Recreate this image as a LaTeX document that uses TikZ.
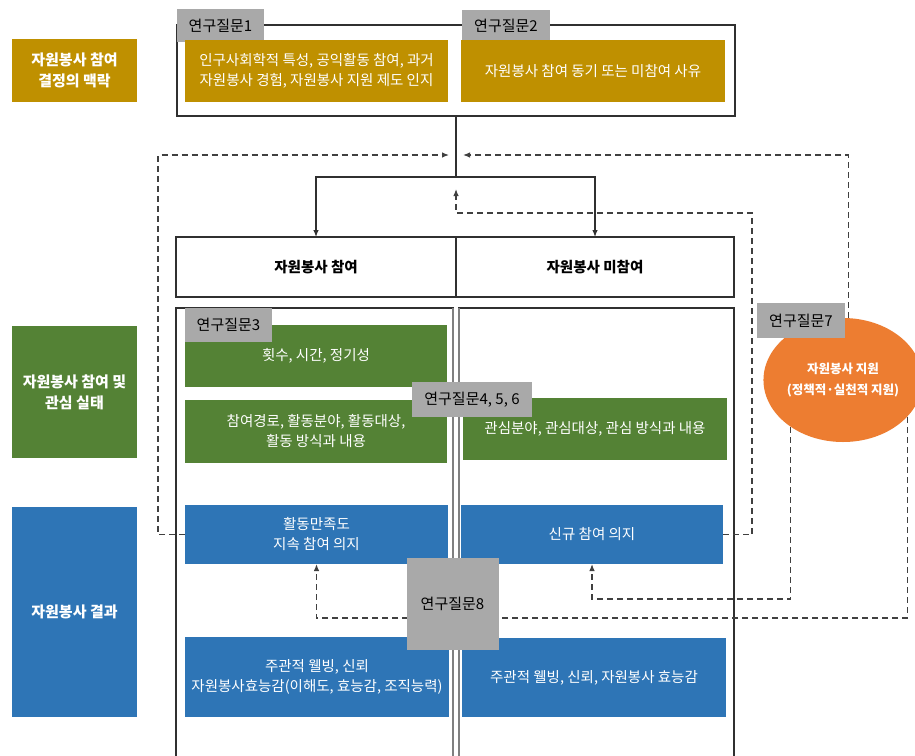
\documentclass[tikz,border=0pt]{standalone}
\usepackage{fontspec}
\setmainfont{Noto Sans CJK KR}
\usetikzlibrary{shapes.geometric,arrows.meta}
\definecolor{cgold}{HTML}{BF9000}
\definecolor{cgreen}{HTML}{548235}
\definecolor{cblue}{HTML}{2E75B6}
\definecolor{corange}{HTML}{ED7D31}
\definecolor{cgray}{HTML}{A9A9A9}
\definecolor{cline}{HTML}{303030}
\definecolor{cdash}{HTML}{404040}
\begin{document}
\begin{tikzpicture}[x=1pt,y=-1pt,
  base/.style={inner sep=0pt, outer sep=0pt, align=center, font=\fontsize{14.5}{20}\selectfont},
  wh/.style 2 args={minimum width=#1pt, minimum height=#2pt},
  fillbox/.style={base, fill=#1, text=white},
  headbox/.style={base, fill=#1, text=white, font=\fontsize{15}{21}\selectfont\bfseries},
  qlabel/.style={base, fill=cgray, text=black, font=\fontsize{15}{18}\selectfont},
  frame/.style={base, draw=cline, line width=1.3pt},
  rowhead/.style={base, draw=cline, line width=1.3pt, font=\fontsize{14.5}{20}\selectfont\bfseries},
  innerline/.style={draw=gray, line width=1.6pt},
  solidarrow/.style={draw=cline, line width=1.2pt, -{Latex[length=7pt,width=5.5pt]}},
  dasharrow/.style={draw=cdash, line width=1.2pt, dash pattern=on 6pt off 4pt, -{Latex[length=7pt,width=5.5pt]}}
]
\useasboundingbox (0,0) rectangle (915,755);
\fill[white] (0,0) rectangle (915,755);
\clip (0,0) rectangle (915,755);

% left headers
\node[headbox=cgold, wh={125}{63}] (hL1) at (74.5,70.5) {자원봉사 참여\\결정의 맥락};
\node[headbox=cgreen, wh={125}{132}] (hL2) at (74.5,392) {자원봉사 참여 및\\관심 실태};
\node[headbox=cblue, wh={125}{210}] (hL3) at (74.5,612) {자원봉사 결과};

% top frame
\node[frame, wh={558}{91}] (topframe) at (456,70.5) {};
\node[qlabel, wh={87}{33}] (lab1) at (220.5,25.5) {연구질문1};
\node[qlabel, wh={88}{32}] (lab2) at (506,26) {연구질문2};
\node[fillbox=cgold, wh={263}{62}] (gold1) at (316.5,71) {인구사회학적 특성, 공익활동 참여, 과거\\자원봉사 경험, 자원봉사 지원 제도 인지};
\node[fillbox=cgold, wh={264}{62}] (gold2) at (593,71) {자원봉사 참여 동기 또는 미참여 사유};

% row heads
\node[rowhead, wh={280}{60}] (part) at (316,267) {자원봉사 참여};
\node[rowhead, wh={278}{60}] (nonpart) at (595,267) {자원봉사 미참여};

% lower frames
\node[frame, wh={277}{492}] (lframe) at (314.5,554) {};
\node[frame, wh={275}{492}] (rframe) at (596.5,554) {};
\draw[innerline] (lframe.north east) -- (lframe.south east);
\draw[innerline] (rframe.north west) -- (rframe.south west);

% solid connectors
\coordinate (split) at (456,177);
\draw[draw=cline, line width=1.2pt] (topframe.south) -- (split);
\draw[solidarrow] (split) -| (part.north);
\draw[solidarrow] (split) -| (nonpart.north);

% green boxes
\node[fillbox=cgreen, wh={262}{62}] (grn1) at (316,356) {횟수, 시간, 정기성};
\node[fillbox=cgreen, wh={262}{63}] (grn2) at (316,431.5) {참여경로, 활동분야, 활동대상,\\활동 방식과 내용};
\node[fillbox=cgreen, wh={264}{62}] (grn3) at (595,429) {관심분야, 관심대상, 관심 방식과 내용};

% blue boxes
\node[fillbox=cblue, wh={263}{59}] (blu1) at (316.5,534.5) {활동만족도\\지속 참여 의지};
\node[fillbox=cblue, wh={262}{59}] (blu2) at (592,534.5) {신규 참여 의지};
\node[fillbox=cblue, wh={264}{80}] (blu3) at (317,677) {주관적 웰빙, 신뢰\\자원봉사효능감(이해도, 효능감, 조직능력)};
\node[fillbox=cblue, wh={264}{79}] (blu4) at (594,677.5) {주관적 웰빙, 신뢰, 자원봉사 효능감};

% support ellipse
\node[ellipse, fill=corange, inner sep=0pt, minimum width=150pt, minimum height=124pt, text=white, align=center, font=\fontsize{12.5}{21}\selectfont\bfseries] (sup) at (843,380) {자원봉사 지원\\(정책적·실천적 지원)};

% dashed connectors
\coordinate (cL) at (158,155);
\coordinate (tipL) at (449,155);
\draw[dasharrow] (blu1.west) -| (cL) -- (tipL);

\coordinate (tipR) at (463,155);
\draw[dasharrow] (sup.85) |- (tipR);

\coordinate (c3) at (752,213);
\coordinate (tip3) at (456,189);
\draw[dasharrow] (blu2.east) -| (c3) -| (tip3);

\coordinate (c4) at (592,599);
\draw[dasharrow] (sup.222) |- (c4) -- (blu2.south);

\coordinate (c5) at (316.5,618);
\draw[dasharrow] (sup.330) |- (c5) -- (blu1.south);

% question labels on top
\node[qlabel, wh={87}{34}] (lab3) at (228.5,325) {연구질문3};
\node[qlabel, wh={120}{35}] (lab456) at (472,399.5) {연구질문4, 5, 6};
\node[qlabel, wh={88}{35}] (lab7) at (801,320.5) {연구질문7};
\node[qlabel, wh={92}{92}] (lab8) at (452.5,604) {연구질문8};
\end{tikzpicture}
\end{document}
